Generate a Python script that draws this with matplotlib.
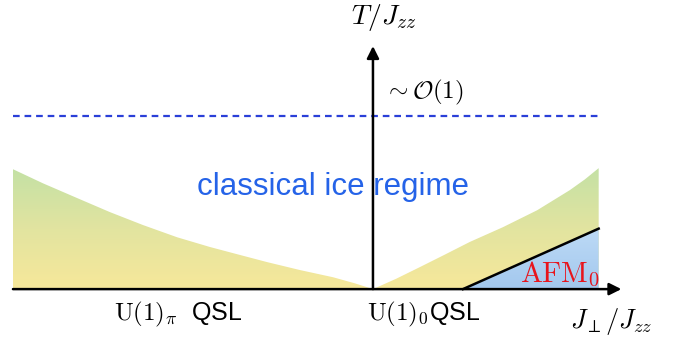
import numpy as np
import matplotlib.pyplot as plt
from matplotlib.path import Path
from matplotlib.patches import PathPatch
from matplotlib.colors import LinearSegmentedColormap

plt.rcParams['mathtext.fontset'] = 'cm'
plt.rcParams['font.family'] = ['Liberation Sans', 'DejaVu Sans']

# crossover boundary (left, pi-flux side) : J_perp, T
left_x = [-1.0, -0.917, -0.822, -0.731, -0.639, -0.544, -0.453, -0.37, -0.294, -0.203, -0.111, -0.05, 0.0]
left_y = [0.333, 0.294, 0.253, 0.214, 0.178, 0.144, 0.117, 0.095, 0.075, 0.053, 0.033, 0.016, 0.0]

# crossover boundary (right, 0-flux side)
right_x = [0.0, 0.065, 0.13, 0.2, 0.269, 0.361, 0.456, 0.547, 0.589, 0.627]
right_y = [0.0, 0.029, 0.061, 0.096, 0.131, 0.172, 0.219, 0.275, 0.305, 0.336]

# AFM_0 phase boundary
afm_x = [0.25, 0.627]
afm_y = [0.0, 0.168]

ice_T = 0.48   # ~O(1) crossover temperature

fig = plt.figure(figsize=(6.84, 3.37), dpi=100)
ax = fig.add_axes([0, 0, 1, 1])
ax.set_xlim(-1.036, 0.864)
ax.set_ylim(-0.133, 0.803)
ax.axis('off')

# yellow -> green gradient regions
gy = LinearSegmentedColormap.from_list('gy', ['#f7e89a', '#e2e4a0', '#c4e1a5'])
grad = np.linspace(0, 1, 256).reshape(-1, 1)


def grad_fill(xs, ys, cmap, top):
    verts = list(zip(xs, ys)) + [(xs[-1], 0), (xs[0], 0)]
    patch = PathPatch(Path(verts), fc='none', ec='none')
    ax.add_patch(patch)
    im = ax.imshow(grad, cmap=cmap, origin='lower', aspect='auto',
                   extent=[min(xs), max(xs), 0, top], zorder=1)
    im.set_clip_path(patch)


grad_fill(left_x, left_y, gy, max(left_y))
grad_fill(right_x, right_y, gy, max(right_y))

# AFM_0 region
bl = LinearSegmentedColormap.from_list('bl', ['#a3c8ee', '#bddaf6'])
grad_fill(afm_x + [right_x[-1]], afm_y + [afm_y[-1]], bl, afm_y[-1])
ax.plot(afm_x, afm_y, color='k', lw=1.8, zorder=3)

# axes arrows
ax.annotate('', xy=(0.69, 0), xytext=(-1.0, 0),
            arrowprops=dict(arrowstyle='-|>', lw=1.8, color='k', mutation_scale=18,
                            shrinkA=0, shrinkB=0), zorder=4)
ax.annotate('', xy=(0, 0.675), xytext=(0, 0),
            arrowprops=dict(arrowstyle='-|>', lw=1.8, color='k', mutation_scale=18,
                            shrinkA=0, shrinkB=0), zorder=4)

# ice crossover line
ax.plot([-1.0, 0.625], [ice_T, ice_T], color='#2a3fd8', lw=1.6, ls=(0, (3, 2.2)), zorder=2)

# labels
ax.text(0.03, 0.755, r'$T/J_{zz}$', fontsize=20, ha='center', va='center')
ax.text(0.03, 0.545, r'$\sim\mathcal{O}(1)$', fontsize=18, ha='left', va='center')
ax.text(-0.11, 0.283, 'classical ice regime', fontsize=22.5, color='#2563e8',
        ha='center', va='center')
ax.text(0.52, 0.042, r'$\mathrm{AFM}_0$', fontsize=21, color='#e8141c',
        ha='center', va='center', zorder=5)
ax.text(-0.54, -0.07, r'$\mathrm{U}(1)_\pi$  QSL', fontsize=18, ha='center', va='center')
ax.text(0.142, -0.07, r'$\mathrm{U}(1)_0$QSL', fontsize=18, ha='center', va='center')
ax.text(0.661, -0.09, r'$J_{\perp}/J_{zz}$', fontsize=19, ha='center', va='center')

fig.savefig('out.png', dpi=100)
